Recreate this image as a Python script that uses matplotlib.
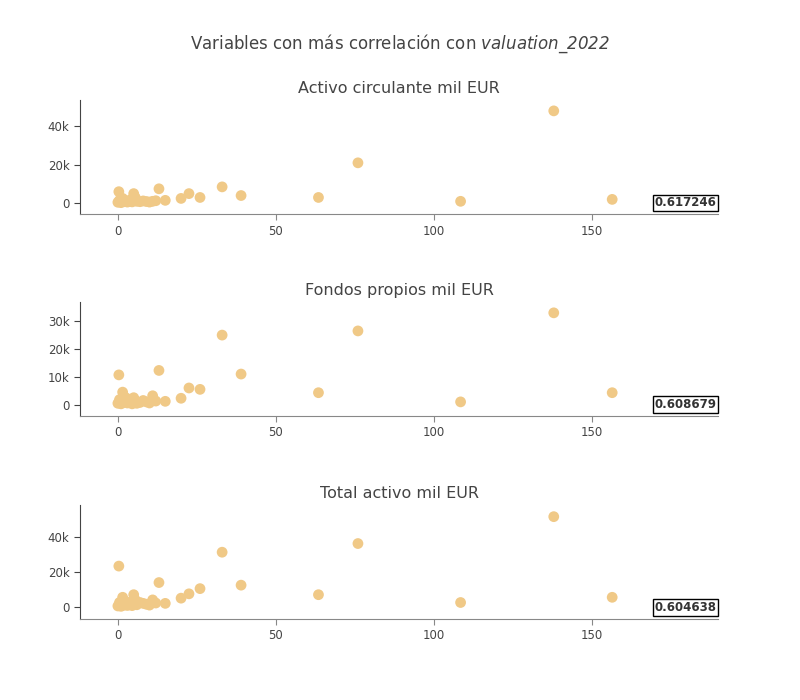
import matplotlib
matplotlib.use("Agg")
import matplotlib.pyplot as plt
from matplotlib.ticker import FuncFormatter

plt.rcParams['mathtext.fontset'] = 'custom'
plt.rcParams['mathtext.it'] = 'DejaVu Sans:italic'
plt.rcParams['mathtext.rm'] = 'DejaVu Sans:italic'

valuation = [156.5, 138, 108.5, 76, 63.5, 39, 33, 26, 22.5, 20, 15, 13, 0.3, 5,
             0, 0.5, 1, 1.5, 2, 2.5, 3, 3.5, 4, 4.5, 5.5, 6, 7, 8, 9, 10, 11, 12]
activo_circ = [2000, 48000, 1000, 21000, 3000, 4000, 8500, 3000, 5000, 2500, 1500, 7500, 6000, 5000,
               500, 1500, 300, 2500, 800, 1200, 600, 900, 1800, 700, 3000, 1000, 800, 1200, 900, 600, 1000, 1300]
fondos = [4300, 33000, 1000, 26500, 4300, 11000, 25000, 5500, 6000, 2300, 1200, 12300, 10700, 2500,
          500, 1800, 300, 4500, 800, 2500, 600, 1200, 1000, 300, 1500, 500, 800, 1500, 1000, 600, 3200, 1300]
total = [5500, 52000, 2500, 36500, 7000, 12500, 31500, 10500, 7500, 5000, 2000, 14000, 23500, 7000,
         500, 2500, 300, 5500, 1000, 3000, 800, 1500, 2500, 700, 4000, 1200, 2500, 2000, 1500, 1000, 4000, 2200]
titles = ["Activo circulante mil EUR", "Fondos propios mil EUR", "Total activo mil EUR"]
corrs = ["0.617246", "0.608679", "0.604638"]
ylims = [(-5700, 53600), (-4000, 37000), (-6900, 58900)]
yticks = [[0, 20000, 40000], [0, 10000, 20000, 30000], [0, 20000, 40000]]
series = [activo_circ, fondos, total]
bottoms = [0.694, 0.406, 0.116]

fig = plt.figure(figsize=(8, 7), dpi=100)
fig.text(0.5, 0.937, r"Variables con más correlación con $\mathit{valuation\_2022}$",
         ha='center', va='center', fontsize=12, color='#444444')
fmt = FuncFormatter(lambda v, p: "0" if v == 0 else f"{int(v/1000)}k")
for i in range(3):
    ax = fig.add_axes([0.1, bottoms[i], 0.7975, 0.163])
    ax.scatter(valuation, series[i], s=60, color='#f0c987', edgecolors='none', zorder=3)
    ax.set_xlim(-12, 190)
    ax.set_ylim(*ylims[i])
    ax.set_yticks(yticks[i])
    ax.yaxis.set_major_formatter(fmt)
    ax.set_xticks([0, 50, 100, 150])
    for s in ['top', 'right']:
        ax.spines[s].set_visible(False)
    ax.spines['left'].set_color('#444444')
    ax.spines['bottom'].set_color('#888888')
    ax.tick_params(labelsize=8.5, colors='#444444', length=4)
    ax.tick_params(axis='x', color='#888888')
    ax.set_title(titles[i], fontsize=11.5, color='#444444', pad=5)
    ax.text(0.998, 0.1, corrs[i], transform=ax.transAxes, ha='right', va='center',
            fontsize=8.5, fontweight='bold', color='#333333',
            bbox=dict(boxstyle='square,pad=0.15', fc='white', ec='black', lw=1))
fig.savefig("out.png")
